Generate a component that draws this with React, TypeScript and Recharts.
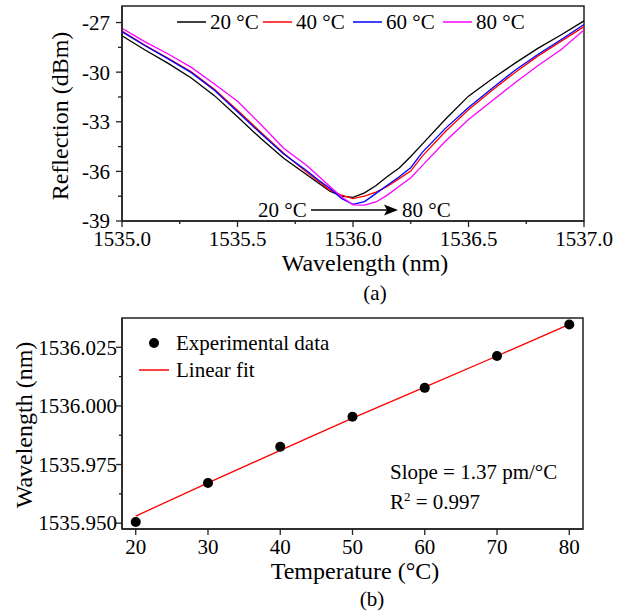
import {
  LineChart,
  Line,
  XAxis,
  YAxis,
  ReferenceArea,
  ComposedChart
} from "recharts";

// ---- (a) reflection spectra ----

const wavelength = [
  1535.0, 1535.1, 1535.2, 1535.3, 1535.4, 1535.5, 1535.6, 1535.7, 1535.8,
  1535.85, 1535.9, 1535.95, 1536.0, 1536.05, 1536.1, 1536.15, 1536.2,
  1536.25, 1536.3, 1536.4, 1536.5, 1536.6, 1536.7, 1536.8, 1536.9, 1537.0
];

const t20 = [
  -27.8, -28.66, -29.47, -30.35, -31.42, -32.7, -34.0, -35.2, -36.2,
  -36.7, -37.2, -37.5, -37.57, -37.3, -36.85, -36.3, -35.8,
  -35.1, -34.35, -32.85, -31.45, -30.43, -29.47, -28.56, -27.75, -26.9
];

const t40 = [
  -27.52, -28.38, -29.16, -29.98, -31.03, -32.3, -33.62, -34.9, -36.05,
  -36.6, -37.13, -37.43, -37.65, -37.49, -37.25, -36.9, -36.44,
  -35.98, -35.08, -33.59, -32.28, -31.12, -30.03, -29.03, -28.14, -27.25
];

const t60 = [
  -27.55, -28.4, -29.2, -30.03, -31.1, -32.4, -33.7, -34.95, -35.96,
  -36.52, -37.02, -37.63, -37.99, -37.83, -37.33, -36.82, -36.32,
  -35.78, -34.85, -33.4, -32.14, -31.0, -29.9, -28.93, -28.04, -27.12
];

const t80 = [
  -27.35, -28.17, -28.9, -29.71, -30.72, -31.76, -33.15, -34.6, -35.65,
  -36.28, -36.92, -37.54, -38.02, -38.04, -37.85, -37.42, -36.9,
  -36.38, -35.65, -34.18, -32.86, -31.76, -30.65, -29.61, -28.64, -27.45
];

const spectrumMajorX = [1535.0, 1535.5, 1536.0, 1536.5, 1537.0];
const spectrumMinorX = [1535.25, 1535.75, 1536.25, 1536.75];
const spectrumMajorY = [-39, -36, -33, -30, -27];
const spectrumMinorY = [-37.5, -34.5, -31.5, -28.5];

// ---- (b) peak wavelength vs temperature ----

const temperature = [20, 30, 40, 50, 60, 70, 80];
const peakWavelength = [
  1535.9505, 1535.9671, 1535.9826, 1535.9954, 1536.0077, 1536.0213, 1536.0347
];
const linearFit = [
  1535.953, 1535.9672, 1535.981, 1535.9948, 1536.008, 1536.0213, 1536.0348
];

const tempMajorX = [20, 30, 40, 50, 60, 70, 80];
const tempMajorY = [1535.95, 1535.975, 1536.0, 1536.025];
const tempMinorY = [1535.9625, 1535.9875, 1536.0125];

const spectrumData = wavelength.map((w, i) => ({
  w,
  t20: t20[i],
  t40: t40[i],
  t60: t60[i],
  t80: t80[i]
}));

const tempData = temperature.map((t, i) => ({
  t,
  measured: peakWavelength[i],
  fit: linearFit[i]
}));

const FONT = "Liberation Serif";
const AXIS = "#222";

function BottomTick(props: any) {
  const { x, y, payload, majors, fmt, majorLen, minorLen, offset } = props;
  const major = majors.includes(payload.value);
  const len = major ? majorLen : minorLen;
  return (
    <g>
      <line x1={x} x2={x} y1={y} y2={y + len} stroke={AXIS} strokeWidth={1.3} />
      {major && (
        <text
          x={x}
          y={y + offset}
          dy="0.35em"
          textAnchor="middle"
          style={{ fontFamily: FONT, fontSize: 21 }}
          fill="#000"
        >
          {fmt(payload.value)}
        </text>
      )}
    </g>
  );
}

function LeftTick(props: any) {
  const { x, y, payload, majors, fmt, majorLen, minorLen, offset } = props;
  const major = majors.includes(payload.value);
  const len = major ? majorLen : minorLen;
  return (
    <g>
      <line x1={x - len} x2={x} y1={y} y2={y} stroke={AXIS} strokeWidth={1.3} />
      {major && (
        <text
          x={x - offset}
          y={y}
          dy="0.35em"
          textAnchor="end"
          style={{ fontFamily: FONT, fontSize: 21 }}
          fill="#000"
        >
          {fmt(payload.value)}
        </text>
      )}
    </g>
  );
}

const legendA = [
  { label: "20 °C", color: "#000000", x: 177 },
  { label: "40 °C", color: "#ff0000", x: 263 },
  { label: "60 °C", color: "#0000ff", x: 353 },
  { label: "80 °C", color: "#ff00ff", x: 443 }
];

function T(props: any) {
  const { size = 21, children, ...rest } = props;
  return (
    <text
      dy="0.35em"
      fill="#000"
      style={{ fontFamily: FONT, fontSize: size }}
      {...rest}
    >
      {children}
    </text>
  );
}

export default function App() {
  return (
    <div
      style={{
        position: "absolute",
        left: 0,
        top: 0,
        width: 629,
        height: 612,
        background: "#fff",
        fontFamily: FONT
      }}
    >
      <div style={{ position: "absolute", left: 0, top: 0 }}>
        <LineChart
          width={629}
          height={300}
          data={spectrumData}
          margin={{ top: 6, right: 45, bottom: 39, left: 0 }}
        >
          <XAxis
            dataKey="w"
            type="number"
            domain={[1535, 1537]}
            allowDataOverflow
            ticks={[...spectrumMajorX, ...spectrumMinorX].sort((a, b) => a - b)}
            interval={0}
            height={40}
            tickSize={0}
            tickMargin={0}
            tickLine={false}
            axisLine={{ stroke: AXIS, strokeWidth: 1.5 }}
            tick={(p: any) => (
              <BottomTick
                {...p}
                majors={spectrumMajorX}
                fmt={(v: number) => v.toFixed(1)}
                majorLen={6}
                minorLen={3}
                offset={18}
              />
            )}
          />
          <YAxis
            type="number"
            domain={[-39, -26]}
            allowDataOverflow
            ticks={[...spectrumMajorY, ...spectrumMinorY].sort((a, b) => a - b)}
            interval={0}
            width={122}
            tickSize={0}
            tickMargin={0}
            tickLine={false}
            axisLine={{ stroke: AXIS, strokeWidth: 1.5 }}
            tick={(p: any) => (
              <LeftTick
                {...p}
                majors={spectrumMajorY}
                fmt={(v: number) => String(v)}
                majorLen={6}
                minorLen={4}
                offset={12}
              />
            )}
          />
          <ReferenceArea
            x1={1535}
            x2={1537}
            y1={-39}
            y2={-26}
            fill="none"
            stroke={AXIS}
            strokeWidth={1.5}
          />
          <Line dataKey="t20" stroke="#000000" strokeWidth={1.3} dot={false} isAnimationActive={false} />
          <Line dataKey="t40" stroke="#ff0000" strokeWidth={1.3} dot={false} isAnimationActive={false} />
          <Line dataKey="t60" stroke="#0000ff" strokeWidth={1.3} dot={false} isAnimationActive={false} />
          <Line dataKey="t80" stroke="#ff00ff" strokeWidth={1.3} dot={false} isAnimationActive={false} />
        </LineChart>
      </div>

      <div style={{ position: "absolute", left: 0, top: 300 }}>
        <ComposedChart
          width={629}
          height={312}
          data={tempData}
          margin={{ top: 18, right: 46, bottom: 43, left: 0 }}
        >
          <XAxis
            dataKey="t"
            type="number"
            domain={[18.1, 81.9]}
            allowDataOverflow
            ticks={tempMajorX}
            interval={0}
            height={40}
            tickSize={0}
            tickMargin={0}
            tickLine={false}
            axisLine={{ stroke: AXIS, strokeWidth: 1.5 }}
            tick={(p: any) => (
              <BottomTick
                {...p}
                majors={tempMajorX}
                fmt={(v: number) => String(v)}
                majorLen={6}
                minorLen={3}
                offset={18}
              />
            )}
          />
          <YAxis
            type="number"
            domain={[1535.9475, 1536.0375]}
            allowDataOverflow
            ticks={[...tempMajorY, ...tempMinorY].sort((a, b) => a - b)}
            interval={0}
            width={122}
            tickSize={0}
            tickMargin={0}
            tickLine={false}
            axisLine={{ stroke: AXIS, strokeWidth: 1.5 }}
            tick={(p: any) => (
              <LeftTick
                {...p}
                majors={tempMajorY}
                fmt={(v: number) => v.toFixed(3)}
                majorLen={6}
                minorLen={3}
                offset={5}
              />
            )}
          />
          <ReferenceArea
            x1={18.1}
            x2={81.9}
            y1={1535.9475}
            y2={1536.0375}
            fill="none"
            stroke={AXIS}
            strokeWidth={1.5}
          />
          <Line
            dataKey="fit"
            stroke="#ff0000"
            strokeWidth={1.3}
            dot={false}
            isAnimationActive={false}
          />
          <Line
            dataKey="measured"
            stroke="none"
            dot={{ r: 5, fill: "#000", stroke: "#000", strokeWidth: 0 }}
            isAnimationActive={false}
          />
        </ComposedChart>
      </div>

      <svg
        width={629}
        height={612}
        style={{ position: "absolute", left: 0, top: 0, pointerEvents: "none" }}
      >
        {/* legend (a) */}
        {legendA.map((item) => (
          <g key={item.label}>
            <line
              x1={item.x}
              x2={item.x + 29}
              y1={22}
              y2={22}
              stroke={item.color}
              strokeWidth={1.5}
            />
            <T x={item.x + 33} y={22}>
              {item.label}
            </T>
          </g>
        ))}

        {/* shift annotation */}
        <T x={258} y={210}>20 °C</T>
        <line x1={311} x2={388} y1={210} y2={210} stroke="#000" strokeWidth={1.5} />
        <polygon points="398,210 384,204.5 387,210 384,215.5" fill="#000" />
        <T x={402} y={210}>80 °C</T>

        <T
          x={60}
          y={116}
          size={24}
          textAnchor="middle"
          transform="rotate(-90 60 116)"
        >
          Reflection (dBm)
        </T>
        <T x={365} y={263} size={24} textAnchor="middle">
          Wavelength (nm)
        </T>
        <T x={375} y={293} textAnchor="middle">
          (a)
        </T>

        {/* legend (b) */}
        <circle cx={154} cy={343} r={5} fill="#000" />
        <T x={176} y={343}>Experimental data</T>
        <line x1={139} x2={169} y1={370} y2={370} stroke="#ff0000" strokeWidth={1.5} />
        <T x={176} y={370}>Linear fit</T>

        <T x={390} y={472}>Slope = 1.37 pm/°C</T>
        <T x={390} y={502}>
          R
          <tspan style={{ fontSize: 13 }} dy="-8">2</tspan>
          <tspan dy="8"> = 0.997</tspan>
        </T>

        <T
          x={24}
          y={425}
          size={24}
          textAnchor="middle"
          transform="rotate(-90 24 425)"
        >
          Wavelength (nm)
        </T>
        <T x={355} y={571} size={24} textAnchor="middle">
          Temperature (°C)
        </T>
        <T x={372} y={599} textAnchor="middle">
          (b)
        </T>
      </svg>
    </div>
  );
}
